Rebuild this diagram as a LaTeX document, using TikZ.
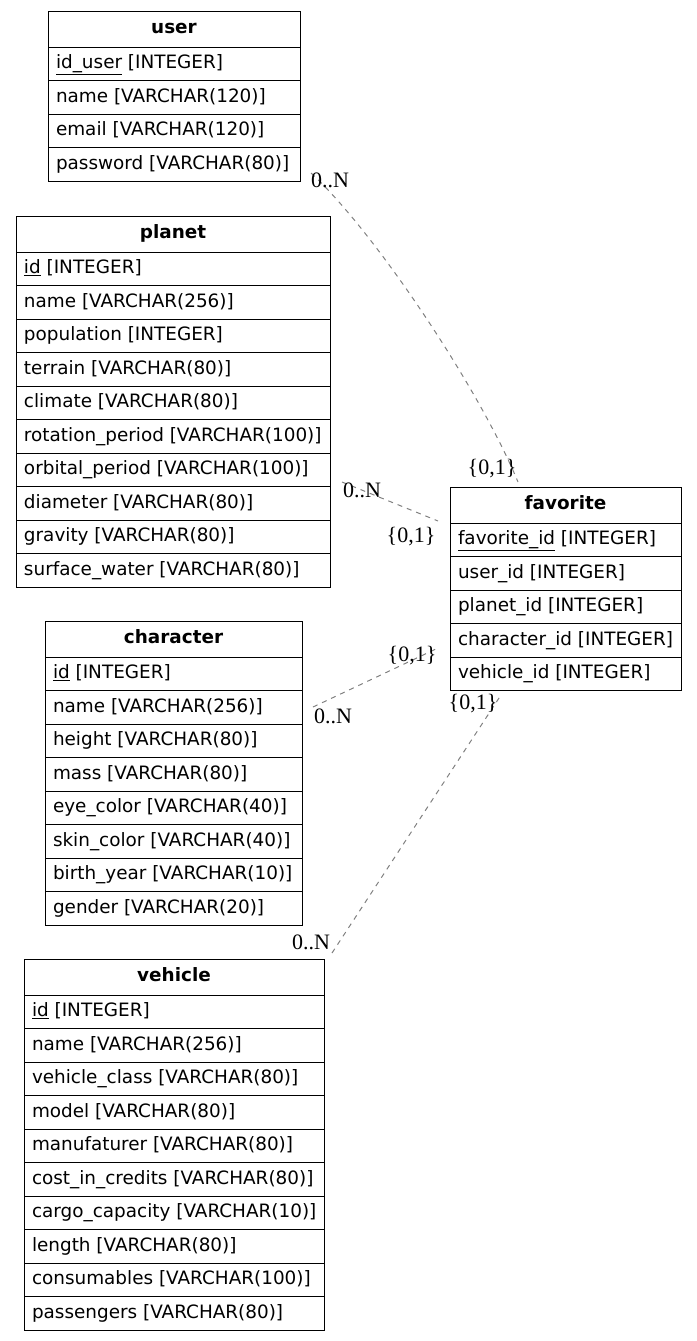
\documentclass[tikz,border=0pt]{standalone}
\usepackage{fontspec}
\setmainfont{DejaVu Sans}
\newfontfamily\cardfont{Liberation Serif}
\usetikzlibrary{positioning}

\tikzset{
  tblhead/.style={draw, line width=1pt, anchor=north west, minimum width=#1, minimum height=36pt, inner sep=0pt, outer sep=0pt, text height=13pt, text depth=4pt, font=\fontsize{18.4}{22}\selectfont\bfseries},
  tblrow/.style={draw, line width=1pt, minimum width=#1, minimum height=33.5pt, inner sep=0pt, outer sep=0pt, text height=14pt, text depth=4pt, font=\fontsize{18.4}{22}\selectfont},
  rel/.style={draw=gray, dash pattern=on 5pt off 5pt, line width=1pt},
  card/.style={font=\cardfont\fontsize{22}{24}\selectfont, inner sep=0pt}
}

\begin{document}
\begin{tikzpicture}[x=1pt, y=-1pt]
\useasboundingbox (0,0) rectangle (696,1341);

\def\tblw{252pt}
\node[tblhead=\tblw] (user-0) at (48,11) {user};
\foreach \fld [count=\i, remember=\i as \j (initially 0)] in {{\underline{id\_user} [INTEGER]}, name [VARCHAR(120)], email [VARCHAR(120)], password [VARCHAR(80)]}
  \node[tblrow=\tblw, below=0pt of user-\j] (user-\i) {\makebox[\tblw][l]{\hspace{8pt}\fld}};

\def\tblw{314pt}
\node[tblhead=\tblw] (planet-0) at (16,216) {planet};
\foreach \fld [count=\i, remember=\i as \j (initially 0)] in {{\underline{id} [INTEGER]}, name [VARCHAR(256)], population [INTEGER], terrain [VARCHAR(80)], climate [VARCHAR(80)], rotation\_period [VARCHAR(100)], orbital\_period [VARCHAR(100)], diameter [VARCHAR(80)], gravity [VARCHAR(80)], surface\_water [VARCHAR(80)]}
  \node[tblrow=\tblw, below=0pt of planet-\j] (planet-\i) {\makebox[\tblw][l]{\hspace{8pt}\fld}};

\def\tblw{257pt}
\node[tblhead=\tblw] (character-0) at (45,621) {character};
\foreach \fld [count=\i, remember=\i as \j (initially 0)] in {{\underline{id} [INTEGER]}, name [VARCHAR(256)], height [VARCHAR(80)], mass [VARCHAR(80)], eye\_color [VARCHAR(40)], skin\_color [VARCHAR(40)], birth\_year [VARCHAR(10)], gender [VARCHAR(20)]}
  \node[tblrow=\tblw, below=0pt of character-\j] (character-\i) {\makebox[\tblw][l]{\hspace{8pt}\fld}};

\def\tblw{300pt}
\node[tblhead=\tblw] (vehicle-0) at (24,959) {vehicle};
\foreach \fld [count=\i, remember=\i as \j (initially 0)] in {{\underline{id} [INTEGER]}, name [VARCHAR(256)], vehicle\_class [VARCHAR(80)], model [VARCHAR(80)], manufaturer [VARCHAR(80)], cost\_in\_credits [VARCHAR(80)], cargo\_capacity [VARCHAR(10)], length [VARCHAR(80)], consumables [VARCHAR(100)], passengers [VARCHAR(80)]}
  \node[tblrow=\tblw, below=0pt of vehicle-\j] (vehicle-\i) {\makebox[\tblw][l]{\hspace{8pt}\fld}};

\def\tblw{231pt}
\node[tblhead=\tblw] (favorite-0) at (450,487) {favorite};
\foreach \fld [count=\i, remember=\i as \j (initially 0)] in {{\underline{favorite\_id} [INTEGER]}, user\_id [INTEGER], planet\_id [INTEGER], character\_id [INTEGER], vehicle\_id [INTEGER]}
  \node[tblrow=\tblw, below=0pt of favorite-\j] (favorite-\i) {\makebox[\tblw][l]{\hspace{8pt}\fld}};

\coordinate (uf-a) at (311,173);
\coordinate (uf-b) at (518,482);
\coordinate (pf-a) at (342,482);
\coordinate (pf-b) at (438,521);
\coordinate (cf-a) at (313,707);
\coordinate (cf-b) at (438,648);
\coordinate (vf-a) at (332,953);
\coordinate (vf-b) at (501,695);

\draw[rel] (uf-a) .. controls (375,232) and (480,390) .. (uf-b);
\draw[rel] (pf-a) -- (pf-b);
\draw[rel] (cf-a) -- (cf-b);
\draw[rel] (vf-a) -- (vf-b);

\node[card] (uf-n) at (330,180) {0..N};
\node[card] (uf-o) at (492,469) {\{0,1\}};
\node[card] (pf-n) at (362,490) {0..N};
\node[card] (pf-o) at (411,537) {\{0,1\}};
\node[card] (cf-n) at (333,716) {0..N};
\node[card] (cf-o) at (412,656) {\{0,1\}};
\node[card] (vf-n) at (311,942) {0..N};
\node[card] (vf-o) at (473,704) {\{0,1\}};
\end{tikzpicture}
\end{document}
